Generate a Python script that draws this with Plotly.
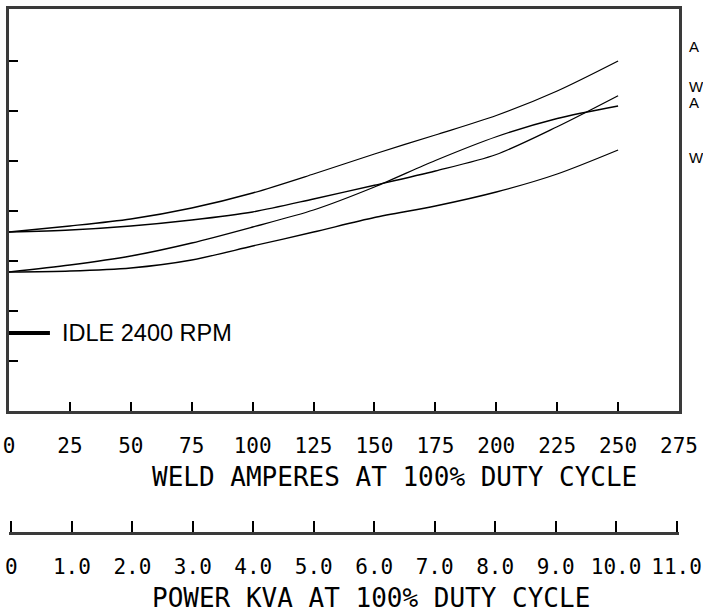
import plotly.graph_objects as go

# ---- data ----
amps = [0, 25, 50, 75, 100, 125, 150, 175, 200, 225, 250]
curve_a = [0.716, 0.740, 0.768, 0.812, 0.872, 0.948, 1.028, 1.104, 1.182, 1.280, 1.400]
curve_b = [0.716, 0.724, 0.740, 0.764, 0.796, 0.848, 0.903, 0.960, 1.026, 1.137, 1.261]
curve_c = [0.556, 0.584, 0.620, 0.672, 0.736, 0.804, 0.896, 1.002, 1.097, 1.170, 1.220]
curve_d = [0.556, 0.560, 0.572, 0.604, 0.660, 0.716, 0.774, 0.820, 0.876, 0.948, 1.044]

idle_x = [0, 16.8]
idle_y = [0.312, 0.312]
idle_label = "IDLE 2400 RPM"

amp_ticks = [0, 25, 50, 75, 100, 125, 150, 175, 200, 225, 250, 275]
amp_labels = [str(v) for v in amp_ticks]
kva_ticks = [0, 1, 2, 3, 4, 5, 6, 7, 8, 9, 10, 11]
kva_labels = ["0", "1.0", "2.0", "3.0", "4.0", "5.0", "6.0", "7.0", "8.0", "9.0", "10.0", "11.0"]
y_ticks = [0.2, 0.4, 0.6, 0.8, 1.0, 1.2, 1.4]

right_labels = ["A", "W", "A", "W"]
right_label_y = [1.46, 1.298, 1.236, 1.016]

amp_title = "WELD AMPERES AT 100% DUTY CYCLE"
kva_title = "POWER KVA AT 100% DUTY CYCLE"

# ---- figure ----
W, H = 703, 613
CAD = "DejaVu Sans Mono, Liberation Mono, monospace"
SANS = "Liberation Sans, Arial, Helvetica, sans-serif"

fig = go.Figure()
for ys in (curve_a, curve_b, curve_c, curve_d):
    fig.add_trace(go.Scatter(x=amps, y=ys, mode="lines",
                             line=dict(color="black", width=1.3, shape="spline", smoothing=0.8),
                             hoverinfo="skip", showlegend=False))
fig.add_trace(go.Scatter(x=idle_x, y=idle_y, mode="lines",
                         line=dict(color="black", width=4), cliponaxis=False,
                         hoverinfo="skip", showlegend=False))
# invisible trace so the kVA scale is drawn
fig.add_trace(go.Scatter(x=[kva_ticks[0], kva_ticks[-1]], y=[0.1, 0.1], xaxis="x2", yaxis="y",
                         mode="markers", marker=dict(opacity=0), hoverinfo="skip", showlegend=False))

x_left, x_right = 9 / W, 679 / W
y_bot, y_top = (H - 411) / H, (H - 9) / H

fig.update_layout(
    width=W, height=H, margin=dict(l=0, r=0, t=0, b=0, autoexpand=False),
    paper_bgcolor="white", plot_bgcolor="white", showlegend=False,
    xaxis=dict(domain=[x_left, x_right], range=[0, 275], showgrid=False, zeroline=False,
               showline=True, mirror=True, linecolor="#3a3a3a", linewidth=2.5,
               ticks="inside", ticklen=9, tickwidth=2, tickcolor="black", automargin=False,
               tickvals=amp_ticks, ticktext=amp_labels, ticklabelstandoff=14,
               ticklabeloverflow="allow",
               tickfont=dict(family=CAD, size=21, color="black")),
    yaxis=dict(domain=[y_bot, y_top], range=[0, 1.608], showgrid=False, zeroline=False,
               showline=True, mirror=True, linecolor="#3a3a3a", linewidth=2.5,
               ticks="inside", ticklen=9, tickwidth=2, tickcolor="black", automargin=False,
               tickvals=y_ticks, showticklabels=False),
    xaxis2=dict(overlaying="x", anchor="free", position=(H - 533) / H, side="bottom",
                domain=[x_left, x_right], range=[-0.04, 11.04], showgrid=False, zeroline=False,
                showline=True, linecolor="#3a3a3a", linewidth=2.5, automargin=False,
                ticks="inside", ticklen=11, tickwidth=2, tickcolor="black",
                tickvals=kva_ticks, ticktext=kva_labels, ticklabelstandoff=14,
                ticklabeloverflow="allow",
                tickfont=dict(family=CAD, size=21, color="black")),
)

annotations = [
    dict(x=20.9, y=idle_y[0], xref="x", yref="y", text=idle_label, showarrow=False,
         xanchor="left", yanchor="middle", font=dict(family=SANS, size=23.5, color="black")),
    dict(x=394 / W, y=(H - 477) / H, xref="paper", yref="paper", text=amp_title, showarrow=False,
         xanchor="center", yanchor="middle", font=dict(family=CAD, size=26, color="black")),
    dict(x=371 / W, y=(H - 598) / H, xref="paper", yref="paper", text=kva_title, showarrow=False,
         xanchor="center", yanchor="middle", font=dict(family=CAD, size=26, color="black")),
]
for t, yv in zip(right_labels, right_label_y):
    annotations.append(dict(x=687 / W, y=yv, xref="paper", yref="y", text=t, showarrow=False,
                            xanchor="left", yanchor="middle",
                            font=dict(family=SANS, size=15, color="black")))
fig.update_layout(annotations=annotations)

fig.write_html("out.html", config={"displayModeBar": False},
               post_script="document.body.style.margin='0';document.body.style.overflow='hidden';")
